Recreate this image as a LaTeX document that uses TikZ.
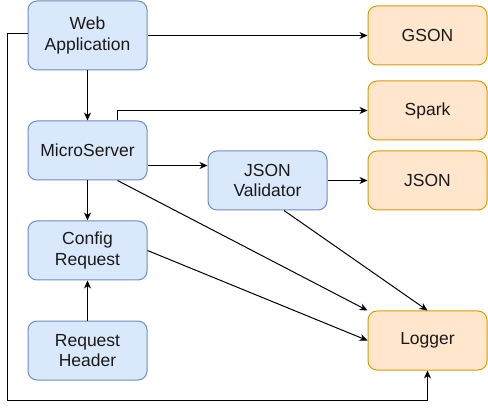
\documentclass[tikz,border=0pt]{standalone}
\usepackage{fontspec}
\setmainfont{Liberation Sans}
\usetikzlibrary{arrows.meta}

\definecolor{blueFill}{HTML}{DAE8FC}
\definecolor{blueLine}{HTML}{6C8EBF}
\definecolor{orangeFill}{HTML}{FFE6CC}
\definecolor{orangeLine}{HTML}{D79B00}
\definecolor{textGray}{HTML}{1A1A1A}

\tikzset{
  box/.style = {rounded corners=9pt, line width=1pt, minimum width=119pt,
    minimum height=59pt, align=center, inner sep=2pt, text=textGray,
    font=\fontsize{17.5}{20.5}\selectfont},
  module/.style = {box, draw=blueLine, fill=blueFill},
  library/.style = {box, draw=orangeLine, fill=orangeFill},
  link/.style = {line width=1pt, -{Stealth[length=8pt,width=7pt,inset=2.5pt]}}
}

\begin{document}
\begin{tikzpicture}[x=1pt, y=-1pt]
      \useasboundingbox (0,0) rectangle (488,409);
      % blue modules
      \node[module, minimum height=69pt] (web) at (87.5,35.5) {Web\\Application};
      \node[module] (micro) at (87.5,150.5) {MicroServer};
      \node[module] (config) at (87.5,250.5) {Config\\Request};
      \node[module] (header) at (87.5,350.5) {Request\\Header};
      \node[module] (validator) at (267.5,180.5) {JSON\\Validator};
      % orange libraries
      \node[library] (gson) at (427.5,35.5) {GSON};
      \node[library] (spark) at (427.5,110.5) {Spark};
      \node[library] (json) at (427.5,180.5) {JSON};
      \node[library] (logger) at (427.5,340.5) {Logger};
      \coordinate (loop) at (7.5,400.5);
      % connectors
      \draw[link] (web.east) -- (gson.west);
      \draw[link] (web.south) -- (micro.north);
      \draw[link] ([xshift=30pt]micro.north) |- (spark.west);
      \draw[link] ([yshift=-15pt]micro.east) -- ([yshift=15pt]validator.west);
      \draw[link] (validator.east) -- (json.west);
      \draw[link] (micro.south) -- (config.north);
      \draw[link] (header.north) -- (config.south);
      \draw[link] ([xshift=30pt]micro.south) -- (logger.north west);
      \draw[link] ([xshift=16.5pt]validator.south) -- (logger.north);
      \draw[link] (config.east) -- (logger.west);
      \draw[link] ([yshift=2pt]web.west) -| (loop) -| (logger.south);
\end{tikzpicture}
\end{document}
